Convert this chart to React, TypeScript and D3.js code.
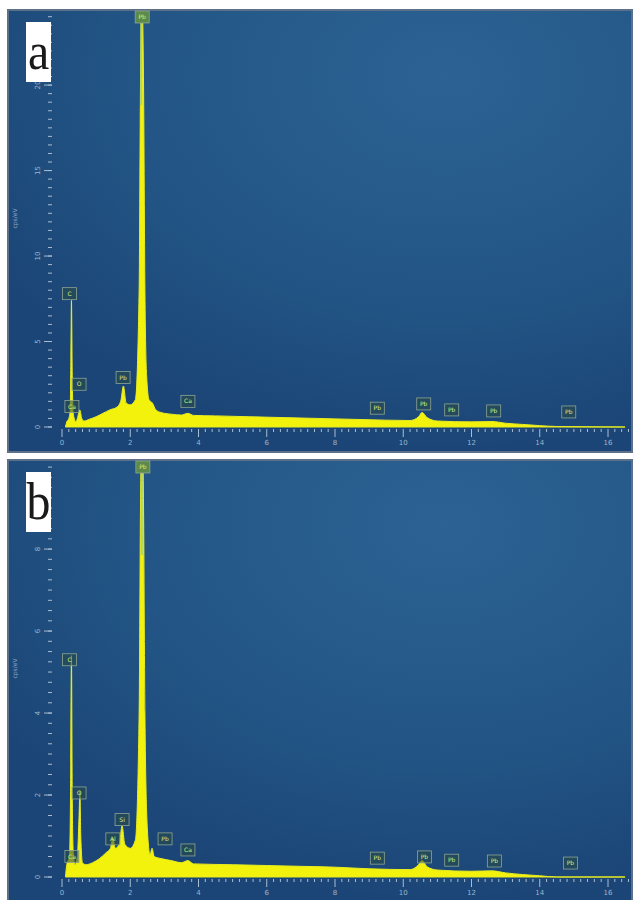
import { useEffect, useRef } from "react";
import * as d3 from "d3";

// spectrum a (keV, cps/eV)
const energyA = [0.1, 0.14, 0.2, 0.24, 0.26, 0.277, 0.3, 0.33, 0.36, 0.4, 0.45, 0.52, 0.58, 0.65, 0.8, 1.0, 1.2, 1.4, 1.6, 1.72, 1.8, 1.88, 2.0, 2.15, 2.26, 2.3, 2.345, 2.39, 2.43, 2.48, 2.55, 2.65, 2.75, 2.9, 3.2, 3.5, 3.69, 3.85, 4.5, 5.5, 6.5, 7.5, 8.5, 9.5, 10.2, 10.45, 10.55, 10.7, 11.0, 12.0, 12.6, 13.0, 13.5, 14.0, 14.5, 16.5];
const countsA = [0, 0.3, 0.5, 1.0, 4, 7.4, 3, 0.8, 0.5, 0.3, 0.5, 1.0, 0.5, 0.35, 0.45, 0.6, 0.8, 1.0, 1.15, 1.5, 2.4, 1.4, 1.3, 1.6, 8, 20, 25, 20, 8, 3, 1.6, 1.4, 1.0, 0.85, 0.75, 0.7, 0.8, 0.68, 0.65, 0.6, 0.55, 0.5, 0.45, 0.4, 0.38, 0.6, 0.85, 0.55, 0.35, 0.3, 0.32, 0.22, 0.15, 0.08, 0.03, 0];

// spectrum b
const energyB = [0.1, 0.14, 0.22, 0.25, 0.277, 0.3, 0.33, 0.38, 0.45, 0.5, 0.525, 0.55, 0.6, 0.7, 0.9, 1.1, 1.3, 1.42, 1.49, 1.56, 1.68, 1.76, 1.84, 2.0, 2.15, 2.26, 2.3, 2.345, 2.39, 2.43, 2.5, 2.58, 2.64, 2.7, 2.9, 3.2, 3.5, 3.69, 3.85, 5, 6, 7, 8, 9, 10.2, 10.45, 10.55, 10.7, 11, 12, 12.6, 13, 13.5, 14, 14.5, 16.5];
const countsB = [0, 0.3, 0.5, 2, 5.4, 2, 0.6, 0.3, 0.5, 1.5, 2.1, 1.0, 0.35, 0.3, 0.35, 0.45, 0.6, 0.7, 0.95, 0.7, 0.8, 1.25, 0.8, 0.7, 0.9, 4, 9, 11, 9, 4, 1.2, 0.55, 0.7, 0.5, 0.45, 0.4, 0.35, 0.4, 0.32, 0.3, 0.28, 0.26, 0.24, 0.2, 0.18, 0.3, 0.4, 0.25, 0.17, 0.14, 0.15, 0.1, 0.06, 0.03, 0, 0];

// peak label boxes: element, keV position, level (cps/eV)
const labelsA = ["C", "O", "Ca", "Pb", "Pb", "Ca", "Pb", "Pb", "Pb", "Pb", "Pb"];
const labelKevA = [0.22, 0.5, 0.29, 1.79, 2.35, 3.69, 9.24, 10.6, 11.42, 12.65, 14.85];
const labelLevelA = [7.8, 2.5, 1.2, 2.9, 24.6, 1.5, 1.1, 1.35, 1.0, 0.94, 0.88];

const labelsB = ["C", "O", "Ca", "Al", "Si", "Pb", "Pb", "Ca", "Pb", "Pb", "Pb", "Pb", "Pb"];
const labelKevB = [0.22, 0.5, 0.29, 1.49, 1.76, 2.37, 3.02, 3.69, 9.24, 10.62, 11.42, 12.67, 14.9];
const labelLevelB = [5.3, 2.05, 0.5, 0.93, 1.4, 10.1, 0.93, 0.66, 0.46, 0.49, 0.41, 0.39, 0.34];

const xTicks = [0, 2, 4, 6, 8, 10, 12, 14, 16];
const yTicksA = [0, 5, 10, 15, 20];
const yTicksB = [0, 2, 4, 6, 8];

type PanelSpec = {
  id: string;
  letter: string;
  top: number;
  bottom: number;
  yZero: number;
  yMax: number;
  yTop: number;
  yTicks: number[];
  yMinorStep: number;
  energy: number[];
  counts: number[];
  labels: string[];
  labelKev: number[];
  labelLevel: number[];
};

const panels: PanelSpec[] = [
  { id: "a", letter: "a", top: 10, bottom: 452, yZero: 427, yMax: 24.1, yTop: 15, yTicks: yTicksA, yMinorStep: 0.5, energy: energyA, counts: countsA, labels: labelsA, labelKev: labelKevA, labelLevel: labelLevelA },
  { id: "b", letter: "b", top: 460, bottom: 902, yZero: 877, yMax: 10.1, yTop: 463, yTicks: yTicksB, yMinorStep: 0.25, energy: energyB, counts: countsB, labels: labelsB, labelKev: labelKevB, labelLevel: labelLevelB },
];

const LEFT = 8;
const RIGHT = 632;
const FONT = "DejaVu Sans, sans-serif";

export default function App(): JSX.Element {
  const ref = useRef<SVGSVGElement | null>(null);

  useEffect(() => {
    if (!ref.current) return;
    const svg = d3.select(ref.current);
    svg.selectAll("*").remove();

    const defs = svg.append("defs");
    const grad = defs
      .append("radialGradient")
      .attr("id", "bg")
      .attr("cx", 0.7)
      .attr("cy", 0.15)
      .attr("r", 0.85);
    grad.append("stop").attr("offset", 0).attr("stop-color", "#2c6394");
    grad.append("stop").attr("offset", 0.6).attr("stop-color", "#225585");
    grad.append("stop").attr("offset", 1).attr("stop-color", "#1b4576");

    const x = d3.scaleLinear().domain([0, 16]).range([62, 608]);

    panels.forEach((p) => {
      const g = svg.append("g");
      const y = d3.scaleLinear().domain([0, p.yMax]).range([p.yZero, p.yTop]);

      g.append("rect")
        .attr("x", LEFT)
        .attr("y", p.top)
        .attr("width", RIGHT - LEFT)
        .attr("height", p.bottom - p.top)
        .attr("fill", "url(#bg)")
        .attr("stroke", "#5d7089")
        .attr("stroke-width", 2);

      defs
        .append("clipPath")
        .attr("id", `clip-${p.id}`)
        .append("rect")
        .attr("x", LEFT + 1)
        .attr("y", p.top + 1)
        .attr("width", RIGHT - LEFT - 2)
        .attr("height", p.yZero - p.top);

      // spectrum
      const pts = p.energy.map((e, i) => [e, p.counts[i]] as [number, number]);
      const area = d3
        .area<[number, number]>()
        .x((d) => x(d[0]))
        .y0(p.yZero)
        .y1((d) => y(d[1]))
        .curve(d3.curveMonotoneX);
      g.append("path")
        .attr("clip-path", `url(#clip-${p.id})`)
        .attr("d", area(pts))
        .attr("fill", "#f3f20c")
        .attr("stroke", "#e8ec20")
        .attr("stroke-width", 1);

      // marker line over the main Pb peak
      const topIdx = p.labelLevel.indexOf(d3.max(p.labelLevel) as number);
      g.append("line")
        .attr("x1", x(p.labelKev[topIdx]) - 1)
        .attr("x2", x(p.labelKev[topIdx]) - 1)
        .attr("y1", p.top + 12)
        .attr("y2", p.top + 95)
        .attr("stroke", "#a9d47c")
        .attr("stroke-width", 2)
        .attr("opacity", 0.9);

      // x axis
      const xMinor = d3.range(0, 16.61, 0.2);
      g.append("g")
        .selectAll("line")
        .data(xMinor)
        .join("line")
        .attr("x1", (d) => x(d))
        .attr("x2", (d) => x(d))
        .attr("y1", p.yZero + 2)
        .attr("y2", (d) => (Math.abs(d / 2 - Math.round(d / 2)) < 0.01 ? p.yZero + 10 : p.yZero + 5))
        .attr("stroke", "#a9bdd2")
        .attr("stroke-width", 1);
      g.append("g")
        .selectAll("text")
        .data(xTicks)
        .join("text")
        .attr("x", (d) => x(d))
        .attr("y", p.yZero + 18)
        .attr("text-anchor", "middle")
        .attr("font-family", FONT)
        .attr("font-size", 7)
        .attr("fill", "#9fb4cb")
        .text((d) => d);

      // y axis
      const yAxisX = 52;
      const yMinor = d3.range(0, p.yMax, p.yMinorStep);
      g.append("g")
        .selectAll("line")
        .data(yMinor)
        .join("line")
        .attr("x1", yAxisX - 4)
        .attr("x2", yAxisX)
        .attr("y1", (d) => y(d))
        .attr("y2", (d) => y(d))
        .attr("stroke", "#a9bdd2")
        .attr("stroke-width", 1);
      g.append("g")
        .selectAll("line")
        .data(p.yTicks)
        .join("line")
        .attr("x1", yAxisX - 8)
        .attr("x2", yAxisX)
        .attr("y1", (d) => y(d))
        .attr("y2", (d) => y(d))
        .attr("stroke", "#a9bdd2")
        .attr("stroke-width", 1);
      g.append("g")
        .selectAll("text")
        .data(p.yTicks)
        .join("text")
        .attr("transform", (d) => `translate(${yAxisX - 12},${y(d)}) rotate(-90)`)
        .attr("text-anchor", "middle")
        .attr("font-family", FONT)
        .attr("font-size", 7)
        .attr("fill", "#9fb4cb")
        .text((d) => d);
      g.append("text")
        .attr("transform", `translate(17,${(p.top + p.yZero) / 2}) rotate(-90)`)
        .attr("text-anchor", "middle")
        .attr("font-family", FONT)
        .attr("font-size", 6)
        .attr("fill", "#8ea5c0")
        .text("cps/eV");

      // peak labels
      const lab = g
        .append("g")
        .selectAll("g")
        .data(p.labels.map((l, i) => ({ l, k: p.labelKev[i], v: p.labelLevel[i] })))
        .join("g")
        .attr("transform", (d) => `translate(${x(d.k)},${Math.max(p.top + 7, y(d.v))})`);
      lab
        .append("rect")
        .attr("x", -7)
        .attr("y", -6)
        .attr("width", 14)
        .attr("height", 12)
        .attr("fill", (d) => (d.v === p.labelLevel[topIdx] ? "#5c8a4a" : "rgba(40,75,70,0.55)"))
        .attr("stroke", "#8fa592")
        .attr("stroke-width", 0.8);
      lab
        .append("text")
        .attr("text-anchor", "middle")
        .attr("dy", "0.35em")
        .attr("font-family", FONT)
        .attr("font-size", 6)
        .attr("fill", "#d6ec7c")
        .text((d) => d.l);

      // panel letter
      const bx = 26;
      const by = p.top + 12;
      g.append("rect")
        .attr("x", bx)
        .attr("y", by)
        .attr("width", 25)
        .attr("height", 60)
        .attr("fill", "#ffffff");
      g.append("text")
        .attr("transform", `translate(${bx + 12.5},${by + 47}) scale(0.92,1)`)
        .attr("text-anchor", "middle")
        .attr("font-family", "Liberation Serif, serif")
        .attr("font-size", 52)
        .attr("fill", "#1a1a1a")
        .text(p.letter);
    });
  }, []);

  return (
    <svg
      ref={ref}
      width={638}
      height={900}
      style={{ position: "absolute", left: 0, top: 0, background: "#ffffff" }}
    />
  );
}
